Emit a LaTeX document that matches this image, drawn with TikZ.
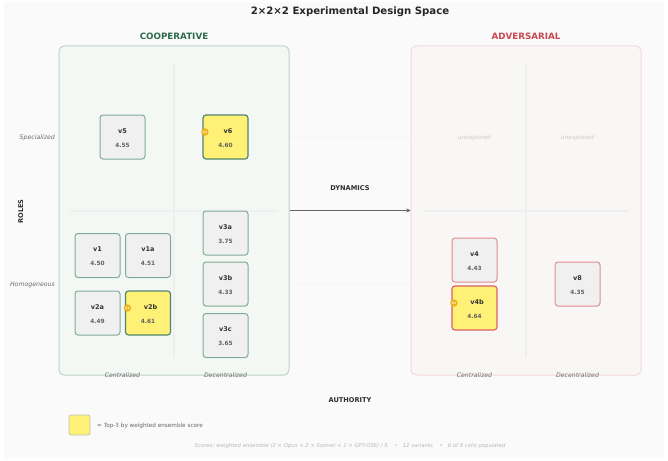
\documentclass[tikz,border=0pt]{standalone}
\usepackage{fontspec}
\setmainfont{DejaVu Sans}
\usetikzlibrary{arrows.meta}
\definecolor{pagebg}{HTML}{FAFAFA}
\definecolor{coopfill}{HTML}{F3F8F5}
\definecolor{coopline}{HTML}{BED4CA}
\definecolor{coopedge}{HTML}{7FAA98}
\definecolor{coopdark}{HTML}{4F8570}
\definecolor{cooptext}{HTML}{2D6A4F}
\definecolor{advfill}{HTML}{F9F7F6}
\definecolor{advline}{HTML}{F4D8D8}
\definecolor{advedge}{HTML}{E08C8F}
\definecolor{advdark}{HTML}{DC6068}
\definecolor{advtext}{HTML}{C9474F}
\definecolor{crossline}{HTML}{EDF0EE}
\definecolor{cellgray}{HTML}{F0F0F0}
\definecolor{topyellow}{HTML}{FFF176}
\definecolor{badgegold}{HTML}{EFB21F}
\tikzset{
	panel/.style={rounded corners=5pt, line width=1pt, minimum width=230pt, minimum height=329pt, inner sep=0pt},
	cellbox/.style={rounded corners=3pt, line width=1pt, fill=cellgray, minimum width=45pt, minimum height=44pt, inner sep=0pt},
	topbox/.style={cellbox, fill=topyellow, line width=1.2pt},
	cellname/.style={font=\bfseries\fontsize{6.5}{8}\selectfont, text=black!80, inner sep=0pt},
	cellscore/.style={font=\bfseries\fontsize{5.8}{7}\selectfont, text=black!62, inner sep=0pt},
	badge/.style={circle, fill=badgegold, minimum size=7.5pt, inner sep=0pt, text=white, font=\bfseries\fontsize{3}{3}\selectfont},
	heading/.style={font=\bfseries\fontsize{8.75}{11}\selectfont, inner sep=0pt},
	axislabel/.style={font=\bfseries\fontsize{6.6}{8}\selectfont, text=black!82, inner sep=0pt},
	ticklabel/.style={font=\itshape\fontsize{6.2}{8}\selectfont, text=black!58, inner sep=0pt},
	ghost/.style={font=\itshape\fontsize{5.8}{7}\selectfont, text=black!22, inner sep=0pt},
	cross/.style={draw=crossline, line width=1.3pt},
	faint/.style={draw=black!4, line width=.5pt},
}
\begin{document}
\begin{tikzpicture}[x=1pt,y=-1pt]
	\useasboundingbox[fill=white] (0,0) rectangle (668,460);
	\fill[pagebg] (4,2) rectangle (664,458);

	\node[font=\bfseries\fontsize{10.15}{12}\selectfont, text=black!85, inner sep=0pt] (title) at (350,12) {2×2×2 Experimental Design Space};

	\draw[faint] (283,137) -- (416,137);
	\draw[faint] (283,284) -- (416,284);

	\node[panel, draw=coopline, fill=coopfill] (coop) at (174,210.5) {};
	\node[panel, draw=advline, fill=advfill] (adv) at (526,210.5) {};
	\node[heading, text=cooptext] (cooptitle) at (174,36.5) {COOPERATIVE};
	\node[heading, text=advtext] (advtitle) at (526,36.5) {ADVERSARIAL};

	\draw[cross] (174,64) -- (174,358);
	\draw[cross] (70,211) -- (278,211);
	\draw[cross] (526,64) -- (526,358);
	\draw[cross] (423,211) -- (629,211);

	\draw[-{Stealth[length=4pt,width=4pt]}, draw=black!60, line width=1.8pt] (coop) -- (adv);
	\node[axislabel] (dynamics) at (350,188) {DYNAMICS};
	\node[axislabel] (authority) at (350,400.5) {AUTHORITY};
	\node[axislabel, rotate=90] (roles) at (20.7,211.5) {ROLES};

	\node[ticklabel, anchor=east] (spec) at (55,137.5) {Specialized};
	\node[ticklabel, anchor=east] (homo) at (55,284.5) {Homogeneous};
	\node[ticklabel] (tick1) at (122.5,375.5) {Centralized};
	\node[ticklabel] (tick2) at (225.5,375.5) {Decentralized};
	\node[ticklabel] (tick3) at (474.5,375.5) {Centralized};
	\node[ticklabel] (tick4) at (577.5,375.5) {Decentralized};

	\node[ghost] (ghost1) at (474.5,137.5) {unexplored};
	\node[ghost] (ghost2) at (577.5,137.5) {unexplored};

	\foreach \id/\x/\y/\score in {v5/122.5/137/4.55, v1/97.5/255.5/4.50, v1a/148/255.5/4.51, v2a/97.5/313/4.49, v3a/225.5/233/3.75, v3b/225.5/284/4.33, v3c/225.5/335.5/3.65} {
		\node[cellbox, draw=coopedge] (\id) at (\x,\y) {};
		\node[cellname] (\id name) at ([yshift=6pt]\id.center) {\id};
		\node[cellscore] (\id score) at ([yshift=-8pt]\id.center) {\score};
	}

	\foreach \id/\x/\y/\score in {v4/474.5/260/4.43, v8/577.5/284/4.35} {
		\node[cellbox, draw=advedge] (\id) at (\x,\y) {};
		\node[cellname] (\id name) at ([yshift=6pt]\id.center) {\id};
		\node[cellscore] (\id score) at ([yshift=-8pt]\id.center) {\score};
	}

	\foreach \id/\x/\y/\score/\edge/\rank in {v6/225.5/137/4.60/coopdark/3, v2b/148/313/4.61/coopdark/2, v4b/474.5/308/4.64/advdark/1} {
		\node[topbox, draw=\edge] (\id) at (\x,\y) {};
		\node[cellname] (\id name) at ([xshift=2.5pt,yshift=6pt]\id.center) {\id};
		\node[cellscore] (\id score) at ([yshift=-8pt]\id.center) {\score};
		\node[badge] (\id badge) at ([xshift=2.5pt,yshift=5pt]\id.west) {\#\rank};
	}

	\node[rounded corners=2pt, draw=black!25, line width=.7pt, fill=topyellow, minimum width=21pt, minimum height=20pt, inner sep=0pt] (legend) at (79.5,425) {};
	\node[font=\fontsize{5.7}{7}\selectfont, text=black!60, anchor=west, inner sep=0pt] (legendtext) at (97,425.5) {= Top-3 by weighted ensemble score};
	\node[font=\itshape\fontsize{5.33}{7}\selectfont, text=black!28, inner sep=0pt] (footer) at (350,446.5) {Scores: weighted ensemble (2 × Opus + 2 × Sonnet + 1 × GPT-OSS) / 5 \ \ \ •\ \ \ 12 variants \ \ \ •\ \ \ 6 of 8 cells populated};
\end{tikzpicture}
\end{document}
